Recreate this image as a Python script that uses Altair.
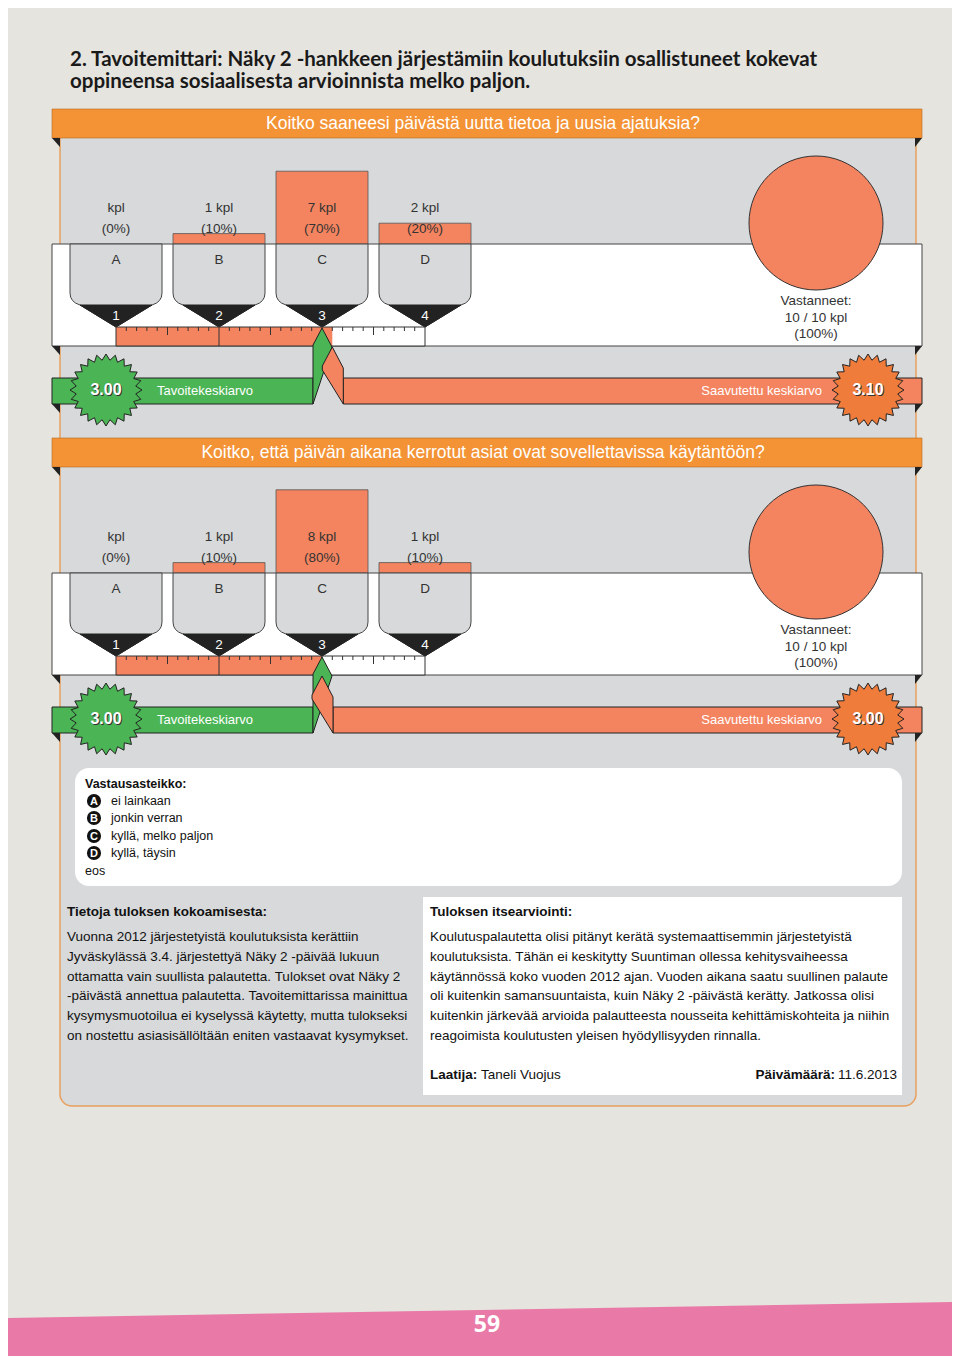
import math
import numpy as np
import pandas as pd
import altair as alt

# ---------------- data ----------------
title_lines = [
    "2. Tavoitemittari: Näky 2 -hankkeen järjestämiin koulutuksiin osallistuneet kokevat",
    "oppineensa sosiaalisesta arvioinnista melko paljon.",
]
questions = [
    "Koitko saaneesi päivästä uutta tietoa ja uusia ajatuksia?",
    "Koitko, että päivän aikana kerrotut asiat ovat sovellettavissa käytäntöön?",
]
letters = ["A", "B", "C", "D"]
scale_values = [1, 2, 3, 4]
counts_q1 = [0, 1, 7, 2]
counts_q2 = [0, 1, 8, 1]
answered = [10, 10]
total = [10, 10]
target_mean = 3.00
target_label = "Tavoitekeskiarvo"
achieved_label = "Saavutettu keskiarvo"

legend_title = "Vastausasteikko:"
legend_labels = ["ei lainkaan", "jonkin verran", "kyllä, melko paljon", "kyllä, täysin"]
legend_extra = "eos"

left_heading = "Tietoja tuloksen kokoamisesta:"
left_lines = [
    "Vuonna 2012 järjestetyistä koulutuksista kerättiin",
    "Jyväskylässä 3.4. järjestettyä Näky 2 -päivää lukuun",
    "ottamatta vain suullista palautetta. Tulokset ovat Näky 2",
    "-päivästä annettua palautetta. Tavoitemittarissa mainittua",
    "kysymysmuotoilua ei kyselyssä käytetty, mutta tulokseksi",
    "on nostettu asiasisällöltään eniten vastaavat kysymykset.",
]
right_heading = "Tuloksen itsearviointi:"
right_lines = [
    "Koulutuspalautetta olisi pitänyt kerätä systemaattisemmin järjestetyistä",
    "koulutuksista. Tähän ei keskitytty Suuntiman ollessa kehitysvaiheessa",
    "käytännössä koko vuoden 2012 ajan.  Vuoden aikana saatu suullinen palaute",
    "oli kuitenkin samansuuntaista, kuin Näky 2 -päivästä kerätty. Jatkossa olisi",
    "kuitenkin järkevää arvioida palautteesta nousseita kehittämiskohteita ja niihin",
    "reagoimista koulutusten yleisen hyödyllisyyden rinnalla.",
]
author_label, author_name = "Laatija:", "Taneli Vuojus"
date_label, date_value = "Päivämäärä:", "11.6.2013"
page_number = "59"

# ---------------- style / layout ----------------
BG = "#e6e4df"
PANEL = "#d7d9da"
HEADER = "#f39335"
SALMON = "#f4845f"
GREEN = "#4bb455"
STAR_OR = "#f07c3c"
DARK = "#222222"
TXT = "#333333"
PINK = "#e97aa8"
EDGE = "#e8a060"
FONT = "Liberation Sans"

OFFS = [0, 329]
SILO_CX = [116, 219, 322, 425]
HALF = 46
BAND_TOP, BAND_BOT = 244, 346
PX_PER_KPL = 10.4
R_X0, R_STEP = 116, 103
R_TOP, R_BOT = 327, 346
RIB_TOP, RIB_BOT = 378, 404


def pos(v):
    return R_X0 + (v - 1) * R_STEP


XS = alt.Scale(domain=[8, 952], nice=False, zero=False)
YS = alt.Scale(domain=[8, 1356], nice=False, zero=False, reverse=True)


def X(f):
    return alt.X(f"{f}:Q", scale=XS, axis=None)


def Y(f):
    return alt.Y(f"{f}:Q", scale=YS, axis=None)


def rects(rows, **kw):
    return alt.Chart(pd.DataFrame(rows)).mark_rect(**kw).encode(
        x=X("x"), x2=alt.X2("x2"), y=Y("y"), y2=alt.Y2("y2"))


def texts(rows, **kw):
    base = dict(baseline="middle", font=FONT)
    base.update(kw)
    return alt.Chart(pd.DataFrame(rows)).mark_text(**base).encode(
        x=X("x"), y=Y("y"), text="t:N")


def poly(pts):
    return "M" + " L".join(f"{a:.2f},{b:.2f}" for a, b in pts) + " Z"


def shapes(rows):
    return alt.Chart(pd.DataFrame(rows)).mark_point(size=4, filled=True, opacity=1).encode(
        x=X("x"), y=Y("y"),
        shape=alt.Shape("path:N", scale=None),
        fill=alt.Fill("fill:N", scale=None),
        stroke=alt.Stroke("stroke:N", scale=None),
        strokeWidth=alt.StrokeWidth("sw:Q", scale=None),
    )


def star(n, R, r):
    pts = []
    for i in range(2 * n):
        a = math.pi * i / n - math.pi / 2
        rad = R if i % 2 == 0 else r
        pts.append((rad * math.cos(a), rad * math.sin(a)))
    return poly(pts)


SILO = "M-46,0 L-46,49 Q-46,58 -36,61 L0,83 L36,61 Q46,58 46,49 L46,0 Z"
FUNNEL = poly([(-36, 61), (36, 61), (0, 83)])
TRI_L = poly([(0, 0), (8, 0), (8, 9)])
TRI_R = poly([(0, 0), (-7, 0), (-7, 9)])
GREEN_CONN = poly([(0, 0), (10, 19), (-9, 76), (-9, 17)])
ORANGE_CONN = poly([(0, 0), (11, 21), (11, 57), (-10, 23), (-10, 19)])
STAR = star(24, 36, 30)

layers = []

# page background pieces
layers.append(shapes([dict(x=480, y=1356, fill=PINK, stroke="transparent", sw=0,
                           path=poly([(-472, -38), (472, -54), (472, 0), (-472, 0)]))]))
layers.append(texts([dict(x=487, y=1325, t=page_number)], fontSize=23, fontWeight="bold",
                    color="white", font="Open Sans", align="center"))
layers.append(texts([dict(x=70, y=60 + 22 * i, t=s) for i, s in enumerate(title_lines)],
                    fontSize=20.5, fontWeight="bold", color="#1a1a1a",
                    font="Lato", align="left"))

# gray panel
layers.append(rects([dict(x=60, x2=916, y=125, y2=1106)], fill=PANEL, stroke=EDGE,
                    strokeWidth=1.5, cornerRadius=12))

bar_rows, label_rows, letter_rows, num_rows, resp_rows, resp_txt = [], [], [], [], [], []
ruler_rows, tick_rows, div_rows = [], [], []
header_rows, header_txt, band_rows, tri_rows, silo_rows = [], [], [], [], []
green_rib, orange_rib, conn_rows, star_rows, star_txt, rib_txt_l, rib_txt_r = [], [], [], [], [], [], []

for p, (off, counts) in enumerate(zip(OFFS, [counts_q1, counts_q2])):
    n = sum(counts)
    mean = sum(v * c for v, c in zip(scale_values, counts)) / n
    header_rows.append(dict(x=52, x2=922, y=109 + off, y2=138 + off))
    header_txt.append(dict(x=483, y=124 + off, t=questions[p]))
    band_rows.append(dict(x=52, x2=922, y=BAND_TOP + off, y2=BAND_BOT + off))
    for yy in (138, BAND_BOT, RIB_BOT):
        tri_rows.append(dict(x=52, y=yy + off, path=TRI_L, fill=DARK, stroke="transparent", sw=0))
        tri_rows.append(dict(x=922, y=yy + off, path=TRI_R, fill=DARK, stroke="transparent", sw=0))
    for L, v, c, cx in zip(letters, scale_values, counts, SILO_CX):
        bar_rows.append(dict(cx=cx, count=c, base=BAND_TOP + off))
        label_rows.append(dict(x=cx, y=208 + off, t=(f"{c} kpl" if c > 0 else "kpl")))
        label_rows.append(dict(x=cx, y=229 + off, t=f"({round(100 * c / n)}%)"))
        letter_rows.append(dict(x=cx, y=260 + off, t=L))
        num_rows.append(dict(x=cx, y=316 + off, t=str(v)))
        silo_rows.append(dict(x=cx, y=BAND_TOP + off, path=SILO, fill=PANEL, stroke="#444", sw=1))
        silo_rows.append(dict(x=cx, y=BAND_TOP + off, path=FUNNEL, fill=DARK, stroke=DARK, sw=1))
    resp_rows.append(dict(cx=816, cy=223 + off, a=answered[p], tot=total[p]))
    resp_txt += [dict(x=816, y=301 + off, t="Vastanneet:"),
                 dict(x=816, y=318 + off, t=f"{answered[p]} / {total[p]} kpl"),
                 dict(x=816, y=334 + off, t=f"({round(100 * answered[p] / total[p])}%)")]
    ruler_rows.append(dict(m=mean, y=R_TOP + off, y2=R_BOT + off))
    for k in range(1, 30):
        if k % 10 == 0:
            continue
        v = 1 + k / 10
        tick_rows.append(dict(x=pos(v), y=R_TOP + off, y2=R_TOP + off + (8 if k % 5 == 0 else 4)))
    for v in (2, 3):
        div_rows.append(dict(x=pos(v), y=R_TOP + off, y2=R_BOT + off))
    xt, xa = pos(target_mean), pos(mean)
    green_rib.append(dict(x=52, x2=xt - 9, y=RIB_TOP + off, y2=RIB_BOT + off))
    orange_rib.append(dict(x=xa + 11, x2=922, y=RIB_TOP + off, y2=RIB_BOT + off))
    conn_rows.append(dict(x=xt, y=R_TOP + 1 + off, path=GREEN_CONN, fill=GREEN, stroke=DARK, sw=1))
    conn_rows.append(dict(x=xa, y=R_BOT + 1 + off, path=ORANGE_CONN, fill=SALMON, stroke=DARK, sw=1))
    star_rows.append(dict(x=106, y=390 + off, path=STAR, fill=GREEN, stroke=DARK, sw=1))
    star_rows.append(dict(x=868, y=390 + off, path=STAR, fill=STAR_OR, stroke=DARK, sw=1))
    star_txt.append(dict(x=106, y=390 + off, t=f"{target_mean:.2f}"))
    star_txt.append(dict(x=868, y=390 + off, t=f"{mean:.2f}"))
    rib_txt_l.append(dict(x=157, y=391 + off, t=target_label))
    rib_txt_r.append(dict(x=822, y=391 + off, t=achieved_label))

layers.append(rects(header_rows, fill=HEADER, stroke="#b86a20", strokeWidth=0.6))
layers.append(texts(header_txt, fontSize=17.5, color="white", align="center"))
layers.append(rects(band_rows, fill="white", stroke="#444", strokeWidth=1))
layers.append(shapes(tri_rows))

# answered circle
layers.append(
    alt.Chart(pd.DataFrame(resp_rows))
    .transform_calculate(t0="0", t1="2*PI*datum.a/datum.tot")
    .mark_arc(radius=67, fill=SALMON, stroke="#333", strokeWidth=1)
    .encode(x=X("cx"), y=Y("cy"), theta=alt.Theta("t0:Q", scale=None, stack=None),
            theta2=alt.Theta2("t1"))
)
layers.append(texts(resp_txt, fontSize=13.5, color=TXT, align="center"))

# bars above silos
layers.append(
    alt.Chart(pd.DataFrame(bar_rows))
    .transform_filter("datum.count > 0")
    .transform_calculate(top=f"datum.base - datum.count * {PX_PER_KPL}",
                         left=f"datum.cx - {HALF}", right=f"datum.cx + {HALF}")
    .mark_rect(fill=SALMON, stroke="#555", strokeWidth=0.8)
    .encode(x=X("left"), x2=alt.X2("right"), y=Y("top"), y2=alt.Y2("base"))
)
layers.append(shapes(silo_rows))
layers.append(texts(label_rows, fontSize=13.5, color=TXT, align="center"))
layers.append(texts(letter_rows, fontSize=13.5, color=TXT, align="center"))
layers.append(texts(num_rows, fontSize=13.5, color="white", align="center"))

# ruler
layers.append(rects([dict(x=R_X0, x2=pos(4), y=r["y"], y2=r["y2"]) for r in ruler_rows],
                    fill="white", stroke="none"))
layers.append(
    alt.Chart(pd.DataFrame(ruler_rows))
    .transform_calculate(x0=str(R_X0), x1=f"{R_X0} + (datum.m - 1) * {R_STEP}")
    .mark_rect(fill=SALMON)
    .encode(x=X("x0"), x2=alt.X2("x1"), y=Y("y"), y2=alt.Y2("y2"))
)
layers.append(alt.Chart(pd.DataFrame(tick_rows)).mark_rule(color="#333", strokeWidth=1)
              .encode(x=X("x"), y=Y("y"), y2=alt.Y2("y2")))
layers.append(alt.Chart(pd.DataFrame(div_rows)).mark_rule(color="#333", strokeWidth=1)
              .encode(x=X("x"), y=Y("y"), y2=alt.Y2("y2")))
layers.append(rects([dict(x=R_X0, x2=pos(4), y=r["y"], y2=r["y2"]) for r in ruler_rows],
                    fill="transparent", stroke="#333", strokeWidth=1))

# ribbons
layers.append(rects(green_rib, fill=GREEN, stroke=DARK, strokeWidth=1))
layers.append(rects(orange_rib, fill=SALMON, stroke=DARK, strokeWidth=1))
layers.append(shapes(conn_rows))
layers.append(texts(rib_txt_l, fontSize=13, color="white", align="left"))
layers.append(texts(rib_txt_r, fontSize=13, color="white", align="right"))
layers.append(shapes(star_rows))
layers.append(texts([dict(x=r["x"] + 1, y=r["y"] + 1, t=r["t"]) for r in star_txt],
                    fontSize=16, fontWeight="bold", color="#333", align="center"))
layers.append(texts(star_txt, fontSize=16, fontWeight="bold", color="white", align="center"))

# legend box
layers.append(rects([dict(x=75, x2=902, y=768, y2=886)], fill="white", cornerRadius=14))
layers.append(texts([dict(x=85, y=784, t=legend_title)], fontSize=12.5, fontWeight="bold",
                    color="#111", align="left"))
leg_y = [801, 818, 836, 853]
layers.append(alt.Chart(pd.DataFrame([dict(x=94, y=yy) for yy in leg_y]))
              .mark_point(shape="circle", size=200, filled=True, color="#111", opacity=1)
              .encode(x=X("x"), y=Y("y")))
layers.append(texts([dict(x=94, y=yy + 0.5, t=L) for yy, L in zip(leg_y, letters)],
                    fontSize=11, fontWeight="bold", color="white", align="center"))
layers.append(texts([dict(x=111, y=yy, t=s) for yy, s in zip(leg_y, legend_labels)]
                    + [dict(x=85, y=871, t=legend_extra)],
                    fontSize=12.5, color="#111", align="left"))

# bottom texts
layers.append(rects([dict(x=423, x2=902, y=897, y2=1095)], fill="white"))
line_y = [937, 957, 977, 996, 1016, 1036]
layers.append(texts([dict(x=67, y=912, t=left_heading), dict(x=430, y=912, t=right_heading),
                     dict(x=430, y=1075, t=author_label)],
                    fontSize=13.5, fontWeight="bold", color="#111", align="left"))
layers.append(texts([dict(x=67, y=yy, t=s) for yy, s in zip(line_y, left_lines)]
                    + [dict(x=430, y=yy, t=s) for yy, s in zip(line_y, right_lines)]
                    + [dict(x=481, y=1075, t=author_name)],
                    fontSize=13.5, color="#111", align="left"))
layers.append(texts([dict(x=835, y=1075, t=date_label)], fontSize=13.5, fontWeight="bold",
                    color="#111", align="right"))
layers.append(texts([dict(x=897, y=1075, t=date_value)], fontSize=13.5, color="#111",
                    align="right"))

chart = (
    alt.layer(*layers)
    .properties(width=944, height=1348, padding=0, background=BG,
                autosize=alt.AutoSizeParams(type="none"))
    .configure_view(stroke=None)
)
chart.save("out.html", embed_options={"renderer": "svg", "actions": False})
